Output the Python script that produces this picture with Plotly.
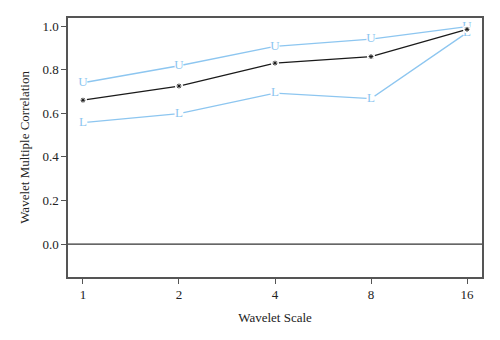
import math
import plotly.graph_objects as go

scales = [1, 2, 4, 8, 16]
corr = [0.660, 0.725, 0.830, 0.860, 0.985]
upper = [0.740, 0.818, 0.907, 0.940, 0.997]
lower = [0.557, 0.598, 0.692, 0.667, 0.970]
tick_labels = ["1", "2", "4", "8", "16"]

blue = "#8DC6F0"
black = "#1a1a1a"
font_family = "Liberation Serif, Times New Roman, serif"

fig = go.Figure()

def add_series(y, sym, color, size):
    fig.add_trace(go.Scatter(
        x=scales, y=y, mode="lines+markers+text",
        line=dict(color=color, width=1.3),
        marker=dict(color="white", size=9, symbol="circle", line=dict(width=0)),
        text=[sym] * len(y), textposition="middle center",
        textfont=dict(family=font_family, size=size, color=color),
        hoverinfo="skip", showlegend=False, cliponaxis=False,
    ))

add_series(upper, "U", blue, 13)
add_series(lower, "L", blue, 13)

fig.add_trace(go.Scatter(
    x=scales, y=corr, mode="lines+markers",
    line=dict(color=black, width=1.3),
    marker=dict(color="white", size=8, symbol="circle", line=dict(width=0)),
    hoverinfo="skip", showlegend=False, cliponaxis=False,
))
fig.add_trace(go.Scatter(
    x=scales, y=corr, mode="markers",
    marker=dict(color=black, size=4, symbol="asterisk-open",
                line=dict(width=1, color=black)),
    hoverinfo="skip", showlegend=False, cliponaxis=False,
))

fig.add_shape(type="line", xref="paper", x0=0, x1=1, yref="y", y0=0, y1=0,
              line=dict(color="#333333", width=1.3))

xr = [math.log10(2 ** -0.156), math.log10(2 ** 4.156)]
fig.update_layout(
    width=500, height=340,
    margin=dict(l=68, r=18, t=18, b=63),
    paper_bgcolor="white", plot_bgcolor="white",
    font=dict(family=font_family, size=13, color="#222222"),
    xaxis=dict(type="log", range=xr, tickvals=scales, ticktext=tick_labels,
               showgrid=False, zeroline=False, showline=True, mirror=True,
               linecolor="#555555", linewidth=1.5, ticks="outside", ticklen=5,
               tickcolor="#555555", tickwidth=1.2,
               title=dict(text="Wavelet Scale", standoff=12,
                          font=dict(size=13))),
    yaxis=dict(range=[-0.151, 1.037], tickvals=[0, 0.2, 0.4, 0.6, 0.8, 1.0],
               ticktext=["0.0", "0.2", "0.4", "0.6", "0.8", "1.0"],
               showgrid=False, zeroline=False, showline=True, mirror=True,
               linecolor="#555555", linewidth=1.5, ticks="outside", ticklen=5,
               tickcolor="#555555", tickwidth=1.2,
               title=dict(text="Wavelet Multiple Correlation", standoff=10,
                          font=dict(size=13))),
)

fig.write_html("out.html")
